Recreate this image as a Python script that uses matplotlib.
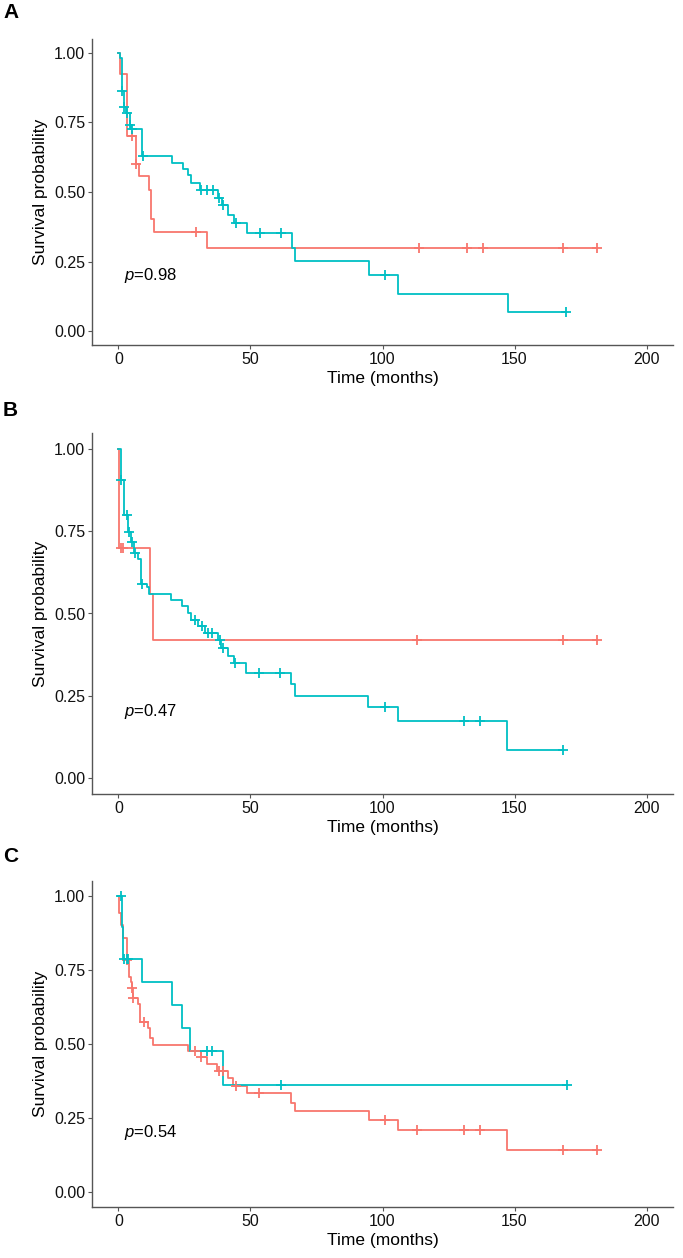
import numpy as np
import matplotlib
matplotlib.use('Agg')
import matplotlib.pyplot as plt

plt.rcParams['font.family'] = ['Liberation Sans', 'DejaVu Sans']
plt.rcParams['mathtext.fontset'] = 'custom'
plt.rcParams['mathtext.rm'] = 'Liberation Sans'
plt.rcParams['mathtext.it'] = 'Liberation Sans:italic'

# ---- Panel A ----
a_red_t = [0, 0.5, 3.3, 6.5, 7.9, 11.7, 12.3, 13.4, 33.4]
a_red_s = [1.0, 0.925, 0.70, 0.602, 0.558, 0.506, 0.404, 0.357, 0.297]
a_red_cens = [5.0, 6.8, 29.4, 113.8, 132, 138, 168.4, 181.3]
a_cyan_t = [0, 0.5, 1.4, 2.1, 3.0, 4.2, 4.9, 9.0, 20.4, 24.3, 26.4, 27.5, 31.0,
            37.6, 39.3, 41.4, 43.8, 48.6, 65.6, 66.9, 94.9, 106, 147.4]
a_cyan_s = [1.0, 0.982, 0.862, 0.805, 0.785, 0.742, 0.725, 0.628, 0.604, 0.584, 0.562,
            0.534, 0.506, 0.479, 0.452, 0.416, 0.389, 0.354, 0.299, 0.251, 0.203,
            0.135, 0.068]
a_cyan_cens = [1.5, 2.3, 3.1, 4.4, 5.0, 9.2, 31.3, 33.4, 35.7, 38.2, 39.7, 44.4,
               53.6, 61.5, 101, 169.5]
a_pval = '0.98'

# ---- Panel B ----
b_red_t = [0, 0.4, 11.9, 13.2]
b_red_s = [1.0, 0.70, 0.56, 0.42]
b_red_cens = [0.9, 1.6, 113, 168.4, 181.3]
b_cyan_t = [0, 0.9, 2.0, 2.2, 3.5, 4.6, 5.9, 7.5, 8.4, 10.9, 11.7, 20.1, 23.9, 26.2,
            27.5, 30.2, 32.8, 37.8, 39.0, 41.6, 43.8, 48.2, 65.3, 66.9, 94.6, 106, 147]
b_cyan_s = [1.0, 0.906, 0.865, 0.799, 0.749, 0.719, 0.683, 0.667, 0.591, 0.58, 0.558,
            0.541, 0.524, 0.50, 0.481, 0.463, 0.442, 0.419, 0.394, 0.372, 0.349,
            0.320, 0.286, 0.249, 0.214, 0.171, 0.0855]
b_cyan_cens = [0.95, 3.1, 3.9, 5.2, 6.4, 8.8, 29, 31.5, 34, 35.5, 38.3, 39.5, 44.1,
               53.2, 61.2, 101, 131, 137, 168.5]
b_pval = '0.47'

# ---- Panel C ----
c_red_t = [0, 0.3, 0.9, 1.6, 3.1, 4.1, 4.6, 5.0, 5.5, 7.5, 8.1, 11.1, 11.9, 13.2,
           26.4, 31.1, 33.4, 37.4, 41.6, 43.5, 48.6, 65.3, 66.9, 95, 106, 147]
c_red_s = [1.0, 0.943, 0.90, 0.857, 0.784, 0.727, 0.710, 0.688, 0.654, 0.635, 0.575,
           0.553, 0.519, 0.497, 0.477, 0.455, 0.431, 0.408, 0.384, 0.358, 0.333,
           0.302, 0.275, 0.244, 0.211, 0.141]
c_red_cens = [3.4, 5.1, 5.6, 9.7, 29, 31.2, 38.2, 39.7, 44.4, 53.2, 101, 113, 131,
              137, 168.4, 181.3]
c_cyan_t = [0, 1.2, 1.6, 9.0, 20.4, 24.2, 27.1, 39.5]
c_cyan_s = [1.0, 0.896, 0.787, 0.710, 0.632, 0.555, 0.476, 0.360]
c_cyan_cens = [0.9, 2.0, 3.1, 3.7, 33.4, 35.5, 61.6, 170]
c_pval = '0.54'

RED = '#F8766D'
CYAN = '#00BFC4'
W, H = 683, 1258


def draw_curve(ax, t, s, cens, color):
    t = np.asarray(t, float)
    s = np.asarray(s, float)
    end = max(max(cens), t[-1])
    ax.step(np.append(t, end), np.append(s, s[-1]), where='post',
            color=color, lw=1.3, zorder=3)
    idx = np.searchsorted(t, cens, side='right') - 1
    ax.plot(cens, s[idx], ls='none', marker='+', ms=7, mew=1.3,
            color=color, zorder=4)


def panel(rect, label, label_y, red, cyan, pval):
    left, top, right, bottom = rect
    ax = fig.add_axes([left / W, 1 - bottom / H, (right - left) / W, (bottom - top) / H])
    draw_curve(ax, *red, RED)
    draw_curve(ax, *cyan, CYAN)
    ax.set_xlim(-10, 210)
    ax.set_ylim(-0.05, 1.05)
    ax.set_xticks([0, 50, 100, 150, 200])
    ax.set_yticks([0, 0.25, 0.5, 0.75, 1.0])
    ax.set_yticklabels(['0.00', '0.25', '0.50', '0.75', '1.00'])
    for sp in ['top', 'right']:
        ax.spines[sp].set_visible(False)
    for sp in ['left', 'bottom']:
        ax.spines[sp].set_color('#555555')
        ax.spines[sp].set_linewidth(1.0)
    ax.tick_params(length=3, width=0.8, color='#555555', labelsize=11.5,
                   labelcolor='#111111', pad=2)
    ax.set_xlabel('Time (months)', fontsize=12.5, labelpad=3)
    ax.set_ylabel('Survival probability', fontsize=12.5, labelpad=4)
    ax.text(2, 0.2, '$p$=' + pval, fontsize=12, va='center', ha='left')
    fig.text(3 / W, 1 - label_y / H, label, fontsize=15, fontweight='bold',
             va='center', ha='left')
    return ax


fig = plt.figure(figsize=(W / 100, H / 100), dpi=100)
panel((92, 39, 673, 345), 'A', 13, (a_red_t, a_red_s, a_red_cens),
      (a_cyan_t, a_cyan_s, a_cyan_cens), a_pval)
panel((92, 433, 673, 794), 'B', 410, (b_red_t, b_red_s, b_red_cens),
      (b_cyan_t, b_cyan_s, b_cyan_cens), b_pval)
panel((92, 881, 673, 1207), 'C', 856, (c_red_t, c_red_s, c_red_cens),
      (c_cyan_t, c_cyan_s, c_cyan_cens), c_pval)

fig.savefig('out.png', dpi=100)
